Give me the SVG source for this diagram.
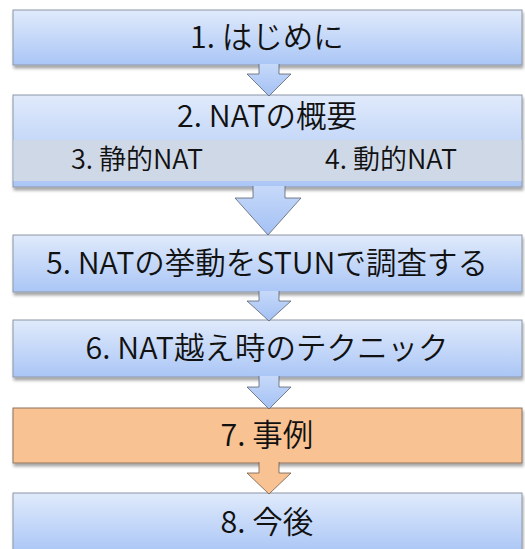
<svg xmlns="http://www.w3.org/2000/svg" width="525" height="549" viewBox="0 0 525 549">
<defs>
<linearGradient id="gBlue" x1="0" y1="0" x2="0" y2="1">
<stop offset="0" stop-color="#e0eafb"/>
<stop offset="1" stop-color="#aac6f6"/>
</linearGradient>
<linearGradient id="gArrow" x1="0" y1="0" x2="0" y2="1">
<stop offset="0" stop-color="#c6d9f9"/>
<stop offset="1" stop-color="#a4c1f4"/>
</linearGradient>
<filter id="sh" x="-5%" y="-10%" width="112%" height="140%">
<feDropShadow dx="1" dy="3" stdDeviation="1.6" flood-color="#000" flood-opacity="0.35"/>
</filter>
</defs>
<style>
.box{fill:url(#gBlue);stroke:#8c96a6;stroke-width:1;filter:url(#sh)}
.orange{fill:#f8c293;stroke:#8e735e;stroke-width:1;filter:url(#sh)}
.band{fill:#cfd8e7}
.t{font-family:"Noto Sans CJK JP","Noto Sans",sans-serif;font-size:30.5px;font-weight:350;fill:#111;text-anchor:middle}
.s{font-family:"Noto Sans CJK JP","Noto Sans",sans-serif;font-size:27px;font-weight:350;fill:#111;text-anchor:middle}
.arr{fill:url(#gArrow);stroke:#5a6270;stroke-width:0.8}
.arrO{fill:#f8c293;stroke:#6e5a4a;stroke-width:0.8}
</style>
<g id="n1">
<rect class="box" x="13" y="10" width="509" height="55"/>
<text class="t" x="267" y="48">1. はじめに</text>
</g>
<g id="n2">
<rect class="box" x="13" y="95" width="509" height="92"/>
<rect class="band" x="13.5" y="140" width="508" height="41"/>
<text class="t" x="267" y="127">2. NATの概要</text>
<text class="s" x="137" y="169">3. 静的NAT</text>
<text class="s" x="391" y="169">4. 動的NAT</text>
</g>
<g id="n5">
<rect class="box" x="13" y="235" width="509" height="57"/>
<text class="t" x="267" y="274">5. NATの挙動をSTUNで調査する</text>
</g>
<g id="n6">
<rect class="box" x="13" y="320" width="509" height="57"/>
<text class="t" x="267" y="359">6. NAT越え時のテクニック</text>
</g>
<g id="n7">
<rect class="orange" x="13" y="408" width="509" height="55"/>
<text class="t" x="267" y="446">7. 事例</text>
</g>
<g id="n8">
<rect class="box" x="13" y="493" width="509" height="60"/>
<text class="t" x="267" y="533">8. 今後</text>
</g>
<g id="connectors">
<path class="arr" d="M259,64 V74 H247 L269,96 L291,74 H279 V64"/>
<path class="arr" d="M253,186 V198 H235 L268,235 L301,198 H285 V186"/>
<path class="arr" d="M259,291 V301 H247 L269,321 L291,301 H279 V291"/>
<path class="arr" d="M259,376 V387 H247 L269,409 L291,387 H279 V376"/>
<path class="arrO" d="M259,462 V473 H247 L269,494 L291,473 H279 V462"/>
</g>
</svg>
